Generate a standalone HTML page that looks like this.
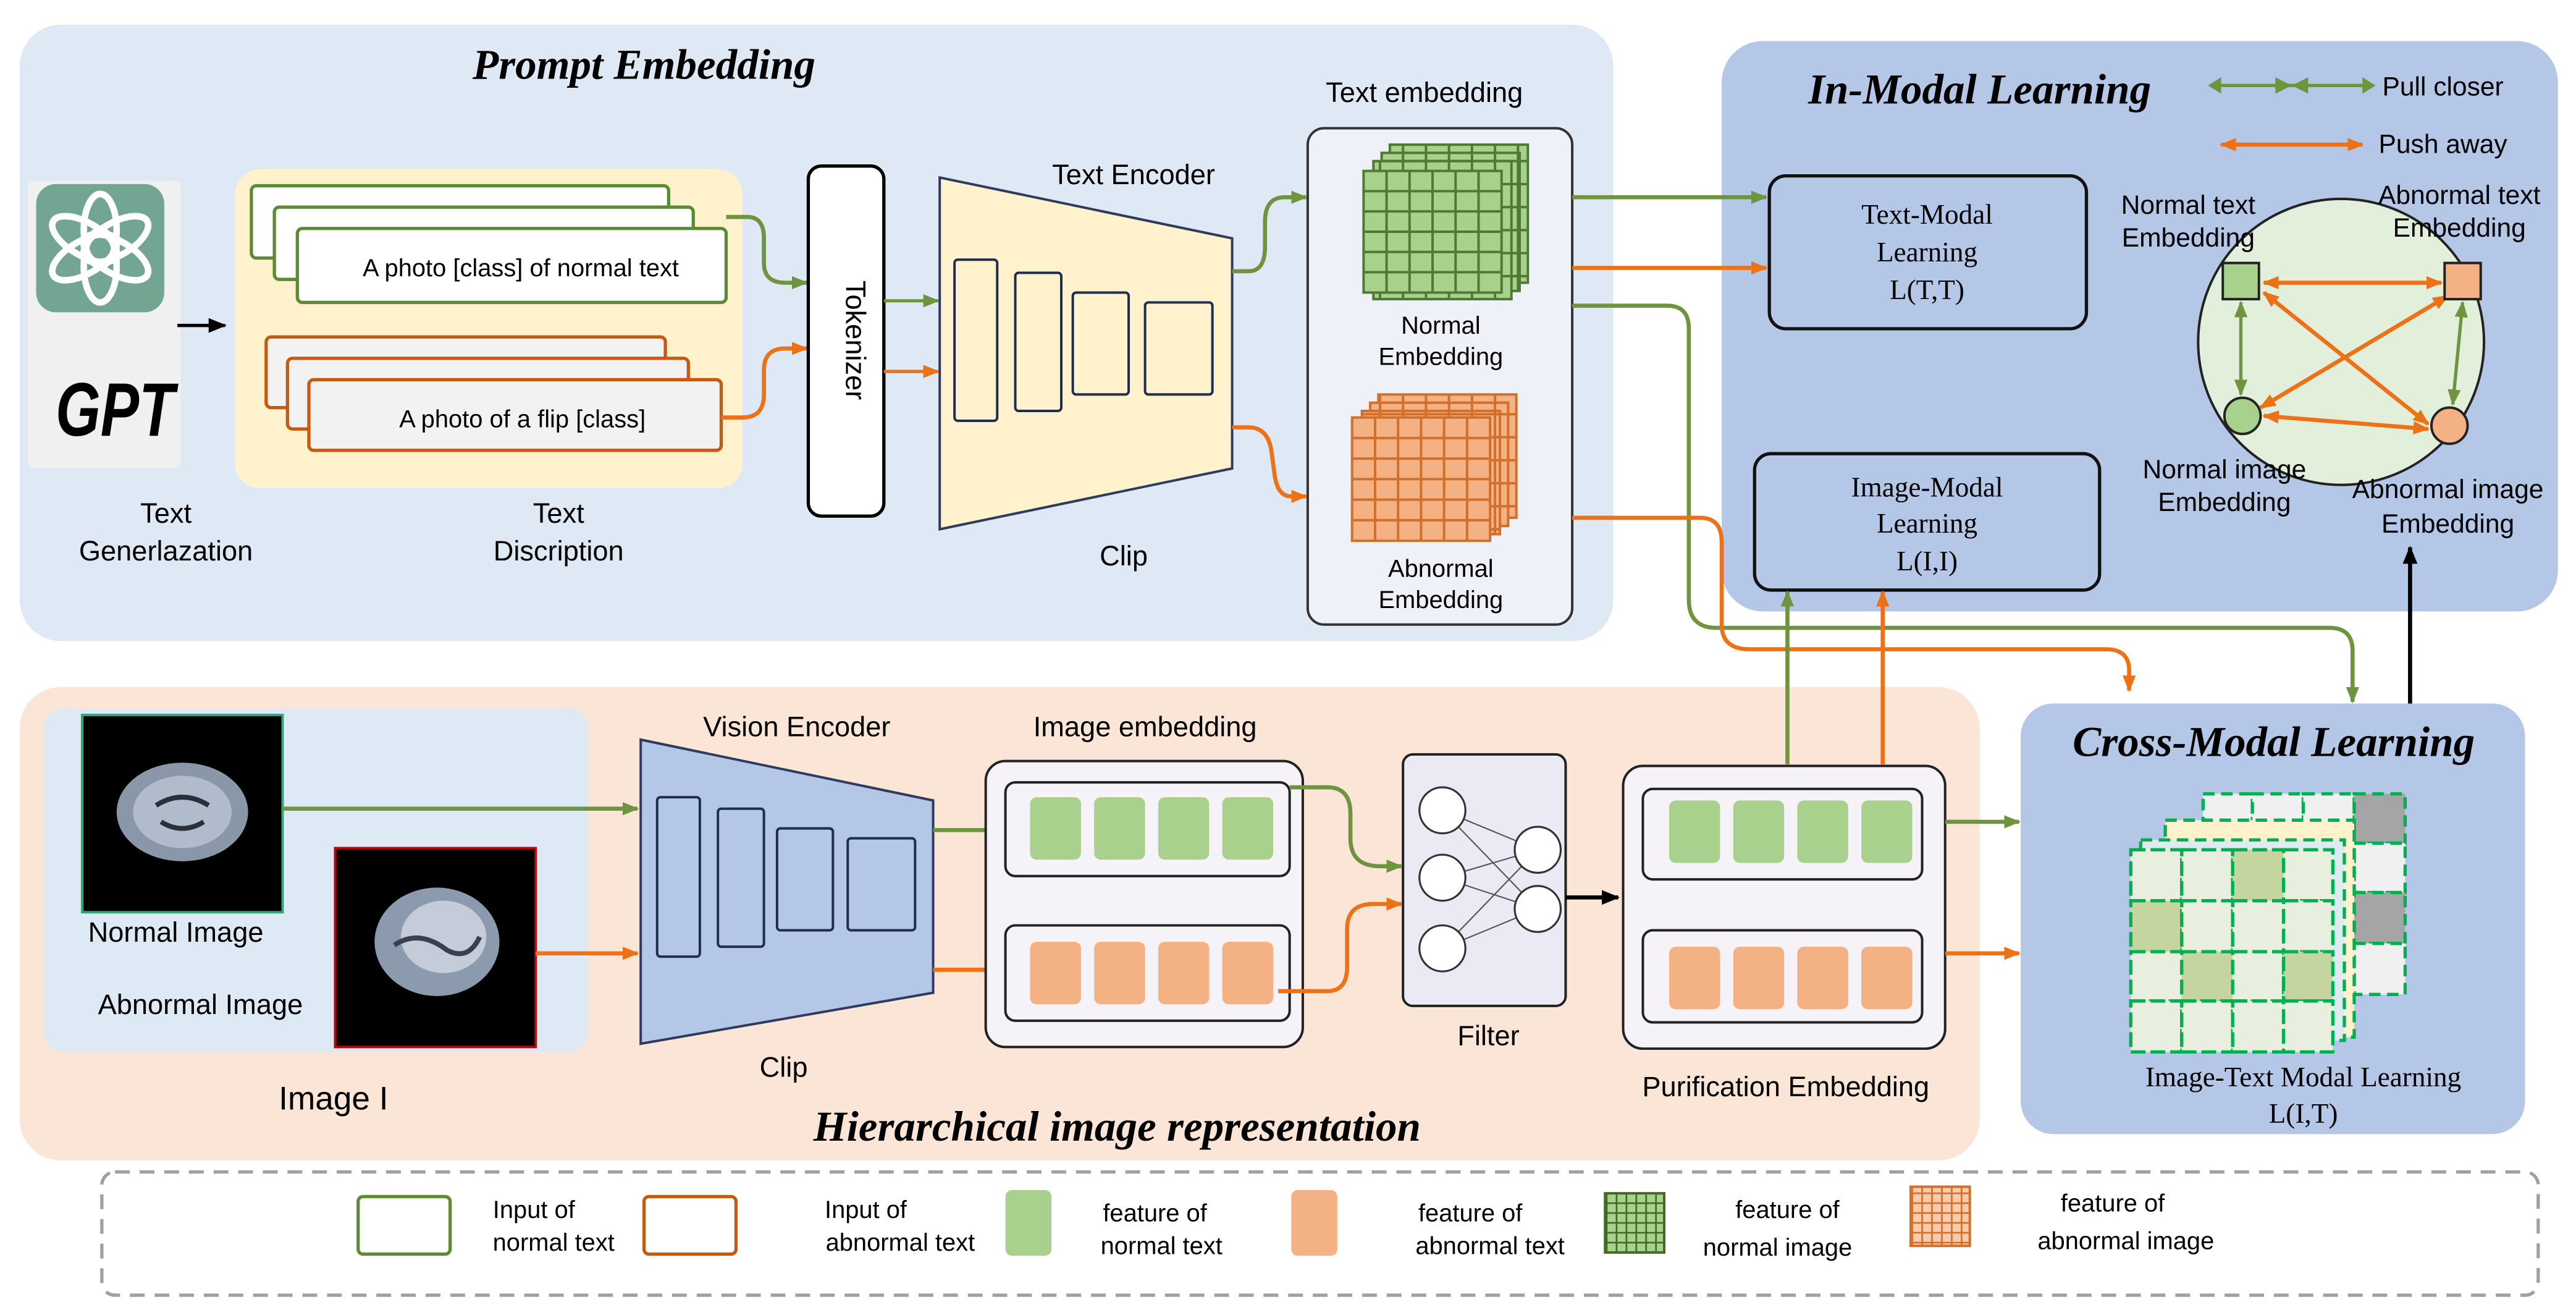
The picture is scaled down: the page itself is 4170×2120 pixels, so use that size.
<!DOCTYPE html>
<html><head><meta charset="utf-8"><style>
html,body{margin:0;padding:0;background:#fff;}
svg{display:block;}
text{font-family:"Liberation Sans",sans-serif;fill:#000;}
.s{font-family:"Liberation Serif",serif;}
.t{font-family:"Liberation Serif",serif;font-weight:bold;font-style:italic;font-size:26px;}
</style></head><body>
<svg width="4170" height="2120" viewBox="0 0 1568 797" preserveAspectRatio="none" xmlns="http://www.w3.org/2000/svg">
<defs>
<marker id="ag" markerWidth="10" markerHeight="8" refX="9" refY="4" orient="auto" markerUnits="userSpaceOnUse"><path d="M0,0 L10,4 L0,8 z" fill="#6f9440"/></marker>
<marker id="ao" markerWidth="10" markerHeight="8" refX="9" refY="4" orient="auto" markerUnits="userSpaceOnUse"><path d="M0,0 L10,4 L0,8 z" fill="#ed7117"/></marker>
<marker id="ak" markerWidth="11" markerHeight="9" refX="10" refY="4.5" orient="auto" markerUnits="userSpaceOnUse"><path d="M0,0 L11,4.5 L0,9 z" fill="#000"/></marker>
<marker id="agr" markerWidth="10" markerHeight="8" refX="1" refY="4" orient="auto" markerUnits="userSpaceOnUse"><path d="M10,0 L0,4 L10,8 z" fill="#6f9440"/></marker>
<marker id="aor" markerWidth="10" markerHeight="8" refX="1" refY="4" orient="auto" markerUnits="userSpaceOnUse"><path d="M10,0 L0,4 L10,8 z" fill="#ed7117"/></marker>
<pattern id="pg" width="14" height="14" patternUnits="userSpaceOnUse"><rect width="14" height="14" fill="#a9d18e" stroke="#4f7a33" stroke-width="1.5"/></pattern>
<pattern id="po" width="14" height="14" patternUnits="userSpaceOnUse"><rect width="14" height="14" fill="#f4b183" stroke="#d0702a" stroke-width="1.5"/></pattern>
<pattern id="pg2" width="6" height="6" patternUnits="userSpaceOnUse"><rect width="6" height="6" fill="#a9d18e" stroke="#3f6b26" stroke-width="1"/></pattern>
<pattern id="po2" width="6" height="6" patternUnits="userSpaceOnUse"><rect width="6" height="6" fill="#f8cbad" stroke="#d0702a" stroke-width="1"/></pattern>
</defs>

<rect x="12" y="15" width="970" height="375" rx="25" fill="#dee9f5"/>
<text x="392" y="48" class="t" text-anchor="middle">Prompt Embedding</text>
<rect x="17" y="110" width="93" height="175" rx="4" fill="#f0f0f0"/>
<rect x="22" y="112" width="78" height="78" rx="12" fill="#72a592"/>
<g fill="none" stroke="#fff" stroke-width="4">
<ellipse cx="61" cy="140" rx="10" ry="22" transform="rotate(0 61 151)"/>
<ellipse cx="61" cy="140" rx="10" ry="22" transform="rotate(60 61 151)"/>
<ellipse cx="61" cy="140" rx="10" ry="22" transform="rotate(120 61 151)"/>
<ellipse cx="61" cy="140" rx="10" ry="22" transform="rotate(180 61 151)"/>
<ellipse cx="61" cy="140" rx="10" ry="22" transform="rotate(240 61 151)"/>
<ellipse cx="61" cy="140" rx="10" ry="22" transform="rotate(300 61 151)"/>
</g>
<text x="0" y="0" font-size="44" font-weight="bold" font-style="italic" text-anchor="middle" transform="translate(70,265) scale(0.8,1.05)">GPT</text>
<line x1="108" y1="198" x2="137" y2="198" stroke="#000" stroke-width="2" marker-end="url(#ak)"/>
<rect x="143" y="103" width="309" height="194" rx="15" fill="#fff2cc"/>
<g stroke="#5e8a36" stroke-width="2" fill="#fff">
<rect x="153" y="113" width="254" height="44" rx="3"/>
<rect x="167" y="126" width="255" height="44" rx="3"/>
<rect x="181" y="139" width="261" height="45" rx="3"/>
</g>
<text x="317" y="168" font-size="15" text-anchor="middle">A photo [class] of normal text</text>
<g stroke="#c55a11" stroke-width="2" fill="#f2f2f2">
<rect x="162" y="205" width="243" height="43" rx="3"/>
<rect x="175" y="218" width="244" height="43" rx="3"/>
<rect x="188" y="231" width="251" height="43" rx="3"/>
</g>
<text x="318" y="260" font-size="15" text-anchor="middle">A photo of a flip [class]</text>
<text x="101" y="318" font-size="17" text-anchor="middle">Text</text>
<text x="101" y="341" font-size="17" text-anchor="middle">Generlazation</text>
<text x="340" y="318" font-size="17" text-anchor="middle">Text</text>
<text x="340" y="341" font-size="17" text-anchor="middle">Discription</text>

<path d="M442,132 L455,132 Q465,132 465,145 L465,160 Q465,172 478,172 L491,172" fill="none" stroke="#6f9440" stroke-width="2.5" marker-end="url(#ag)"/>
<path d="M439,254 L452,254 Q465,254 465,240 L465,225 Q465,212 478,212 L491,212" fill="none" stroke="#ed7117" stroke-width="2.5" marker-end="url(#ao)"/>

<rect x="492" y="101" width="46" height="213" rx="8" fill="#fff" stroke="#000" stroke-width="2"/>
<text x="515" y="207" font-size="17" text-anchor="middle" transform="rotate(90 515 207)">Tokenizer</text>
<line x1="538" y1="183" x2="571" y2="183" stroke="#6f9440" stroke-width="2" marker-end="url(#ag)"/>
<line x1="538" y1="226" x2="571" y2="226" stroke="#ed7117" stroke-width="2" marker-end="url(#ao)"/>

<polygon points="572,108 750,145 750,285 572,322" fill="#fff2cc" stroke="#2f3b5c" stroke-width="1.5"/>
<g fill="none" stroke="#1f2d50" stroke-width="1.5">
<rect x="581" y="158" width="26" height="98" rx="2"/>
<rect x="618" y="166" width="28" height="84" rx="2"/>
<rect x="653" y="178" width="34" height="62" rx="2"/>
<rect x="697" y="184" width="41" height="56" rx="2"/>
</g>
<text x="690" y="112" font-size="17" text-anchor="middle">Text Encoder</text>
<text x="684" y="344" font-size="17" text-anchor="middle">Clip</text>
<path d="M750,165 L760,165 Q770,165 770,150 L770,135 Q770,120 782,120 L795,120" fill="none" stroke="#6f9440" stroke-width="2.5" marker-end="url(#ag)"/>
<path d="M750,260 L760,260 Q772,260 774,275 L776,290 Q778,302 786,302 L795,302" fill="none" stroke="#ed7117" stroke-width="2.5" marker-end="url(#ao)"/>

<text x="867" y="62" font-size="17" text-anchor="middle">Text embedding</text>
<rect x="796" y="78" width="161" height="302" rx="10" fill="#eef2f8" stroke="#333" stroke-width="1.5"/>
<rect x="846" y="88" width="84" height="84" fill="url(#pg)" stroke="#4f7a33" stroke-width="1.5"/>
<rect x="841" y="93" width="84" height="84" fill="url(#pg)" stroke="#4f7a33" stroke-width="1.5"/>
<rect x="836" y="98" width="84" height="84" fill="url(#pg)" stroke="#4f7a33" stroke-width="1.5"/>
<rect x="830" y="104" width="84" height="74" fill="#a9d18e"/>
<g stroke="#4f7a33" stroke-width="1.5" fill="none"><rect x="830" y="104" width="84" height="74"/>
<path d="M844,104V178M858,104V178M872,104V178M886,104V178M900,104V178M830,116.3H914M830,128.6H914M830,141H914M830,153.3H914M830,165.6H914"/></g>
<text x="877" y="203" font-size="15" text-anchor="middle">Normal</text>
<text x="877" y="222" font-size="15" text-anchor="middle">Embedding</text>
<rect x="839" y="240" width="84" height="75" fill="url(#po)" stroke="#d0702a" stroke-width="1.5"/>
<rect x="834" y="245" width="84" height="75" fill="url(#po)" stroke="#d0702a" stroke-width="1.5"/>
<rect x="829" y="250" width="84" height="75" fill="url(#po)" stroke="#d0702a" stroke-width="1.5"/>
<rect x="823" y="254" width="84" height="75" fill="#f4b183"/>
<g stroke="#d0702a" stroke-width="1.5" fill="none"><rect x="823" y="254" width="84" height="75"/>
<path d="M837,254V329M851,254V329M865,254V329M879,254V329M893,254V329M823,266.5H907M823,279H907M823,291.5H907M823,304H907M823,316.5H907"/></g>
<text x="877" y="351" font-size="15" text-anchor="middle">Abnormal</text>
<text x="877" y="370" font-size="15" text-anchor="middle">Embedding</text>

<rect x="1048" y="25" width="509" height="347" rx="25" fill="#b4c7e7"/>
<text x="1205" y="63" class="t" text-anchor="middle">In-Modal Learning</text>
<line x1="1352" y1="52" x2="1438" y2="52" stroke="#6f9440" stroke-width="2"/>
<path d="M1385,47 L1395,52 L1385,57z M1405,47 L1395,52 L1405,57z M1352,47 L1344,52 L1352,57z M1438,47 L1446,52 L1438,57z" fill="#6f9440"/>
<text x="1487" y="58" font-size="16" text-anchor="middle">Pull closer</text>
<line x1="1352" y1="88" x2="1438" y2="88" stroke="#ed7117" stroke-width="2.5" marker-start="url(#aor)" marker-end="url(#ao)"/>
<text x="1487" y="93" font-size="16" text-anchor="middle">Push away</text>
<rect x="1077" y="107" width="193" height="93" rx="10" fill="none" stroke="#111" stroke-width="2"/>
<text class="s" x="1173" y="136" font-size="17" text-anchor="middle">Text-Modal</text>
<text class="s" x="1173" y="159" font-size="17" text-anchor="middle">Learning</text>
<text class="s" x="1173" y="182" font-size="17" text-anchor="middle">L(T,T)</text>
<rect x="1068" y="276" width="210" height="83" rx="10" fill="none" stroke="#111" stroke-width="2"/>
<text class="s" x="1173" y="302" font-size="17" text-anchor="middle">Image-Modal</text>
<text class="s" x="1173" y="324" font-size="17" text-anchor="middle">Learning</text>
<text class="s" x="1173" y="347" font-size="17" text-anchor="middle">L(I,I)</text>

<circle cx="1425" cy="208" r="87" fill="#e2efda" stroke="#222" stroke-width="1.5"/>
<g stroke="#ed7117" stroke-width="2.5">
<line x1="1378" y1="172" x2="1486" y2="172" marker-start="url(#aor)" marker-end="url(#ao)"/>
<line x1="1378" y1="178" x2="1478" y2="258" marker-start="url(#aor)" marker-end="url(#ao)"/>
<line x1="1490" y1="180" x2="1376" y2="248" marker-start="url(#aor)" marker-end="url(#ao)"/>
<line x1="1378" y1="253" x2="1478" y2="261" marker-start="url(#aor)" marker-end="url(#ao)"/>
</g>
<g stroke="#6f9440" stroke-width="2">
<line x1="1364" y1="184" x2="1364" y2="240" marker-start="url(#agr)" marker-end="url(#ag)"/>
<line x1="1499" y1="184" x2="1493" y2="246" marker-start="url(#agr)" marker-end="url(#ag)"/>
</g>
<rect x="1353" y="160" width="22" height="22" fill="#a9d18e" stroke="#222" stroke-width="1.5"/>
<rect x="1488" y="160" width="22" height="22" fill="#f4b183" stroke="#222" stroke-width="1.5"/>
<circle cx="1365" cy="253" r="11" fill="#a9d18e" stroke="#222" stroke-width="1.5"/>
<circle cx="1491" cy="259" r="11" fill="#f4b183" stroke="#222" stroke-width="1.5"/>
<text x="1332" y="130" font-size="16" text-anchor="middle">Normal text</text>
<text x="1332" y="150" font-size="16" text-anchor="middle">Embedding</text>
<text x="1497" y="124" font-size="16" text-anchor="middle">Abnormal text</text>
<text x="1497" y="144" font-size="16" text-anchor="middle">Embedding</text>
<text x="1354" y="291" font-size="16" text-anchor="middle">Normal image</text>
<text x="1354" y="311" font-size="16" text-anchor="middle">Embedding</text>
<text x="1490" y="303" font-size="16" text-anchor="middle">Abnormal image</text>
<text x="1490" y="324" font-size="16" text-anchor="middle">Embedding</text>

<line x1="957" y1="120" x2="1075" y2="120" stroke="#6f9440" stroke-width="2.5" marker-end="url(#ag)"/>
<line x1="957" y1="163" x2="1075" y2="163" stroke="#ed7117" stroke-width="2.5" marker-end="url(#ao)"/>
<path d="M957,186 L1015,186 Q1028,186 1028,200 L1028,365 Q1028,382 1045,382 L1418,382 Q1432,382 1432,396 L1432,427" fill="none" stroke="#6f9440" stroke-width="2.5" marker-end="url(#ag)"/>
<path d="M957,315 L1035,315 Q1048,315 1048,330 L1048,380 Q1048,395 1065,395 L1282,395 Q1296,395 1296,408 L1296,420" fill="none" stroke="#ed7117" stroke-width="2.5" marker-end="url(#ao)"/>
<line x1="1467" y1="428" x2="1467" y2="333" stroke="#000" stroke-width="2.5" marker-end="url(#ak)"/>

<rect x="12" y="418" width="1193" height="288" rx="25" fill="#fbe5d6"/>
<text x="680" y="694" class="t" text-anchor="middle">Hierarchical image representation</text>
<rect x="27" y="431" width="331" height="209" rx="12" fill="#dde9f5"/>
<rect x="50" y="435" width="122" height="120" fill="#000" stroke="#2aa87a" stroke-width="1.5"/>
<ellipse cx="111" cy="494" rx="40" ry="30" fill="#8a97a8"/>
<ellipse cx="111" cy="494" rx="30" ry="22" fill="#b0bccb"/>
<path d="M95,490 Q111,480 127,490 M98,500 Q111,508 124,500" stroke="#2a2f3a" stroke-width="3" fill="none"/>
<rect x="204" y="516" width="122" height="121" fill="#000" stroke="#c00000" stroke-width="1.5"/>
<ellipse cx="266" cy="573" rx="38" ry="33" fill="#8c9aae"/>
<ellipse cx="270" cy="570" rx="26" ry="22" fill="#c3ccd8"/>
<path d="M240,575 Q255,565 272,578 Q285,585 292,570" stroke="#3a4050" stroke-width="3" fill="none"/>
<text x="107" y="573" font-size="17" text-anchor="middle">Normal Image</text>
<text x="122" y="617" font-size="17" text-anchor="middle">Abnormal Image</text>
<text x="203" y="675" font-size="20" text-anchor="middle">Image I</text>
<line x1="172" y1="492" x2="388" y2="492" stroke="#6f9440" stroke-width="2.5" marker-end="url(#ag)"/>
<line x1="326" y1="580" x2="388" y2="580" stroke="#ed7117" stroke-width="2.5" marker-end="url(#ao)"/>
<polygon points="390,450 568,487 568,604 390,635" fill="#b4c7e7" stroke="#2f3b5c" stroke-width="1.5"/>
<g fill="none" stroke="#1f2d50" stroke-width="1.5">
<rect x="400" y="485" width="26" height="97" rx="2"/>
<rect x="437" y="492" width="28" height="84" rx="2"/>
<rect x="473" y="504" width="34" height="62" rx="2"/>
<rect x="516" y="510" width="41" height="56" rx="2"/>
</g>
<text x="485" y="448" font-size="17" text-anchor="middle">Vision Encoder</text>
<text x="477" y="655" font-size="17" text-anchor="middle">Clip</text>
<line x1="568" y1="505" x2="610" y2="505" stroke="#6f9440" stroke-width="2.5" marker-end="url(#ag)"/>
<line x1="568" y1="590" x2="610" y2="590" stroke="#ed7117" stroke-width="2.5" marker-end="url(#ao)"/>

<text x="697" y="448" font-size="17" text-anchor="middle">Image embedding</text>
<rect x="600" y="463" width="193" height="174" rx="12" fill="#f5f3f8" stroke="#222" stroke-width="1.5"/>
<rect x="612" y="476" width="173" height="57" rx="6" fill="none" stroke="#222" stroke-width="1.5"/>
<rect x="612" y="563" width="173" height="58" rx="6" fill="none" stroke="#222" stroke-width="1.5"/>
<g fill="#a9d18e"><rect x="627" y="485" width="31" height="38" rx="4"/><rect x="666" y="485" width="31" height="38" rx="4"/><rect x="705" y="485" width="31" height="38" rx="4"/><rect x="744" y="485" width="31" height="38" rx="4"/></g>
<g fill="#f4b183"><rect x="627" y="573" width="31" height="38" rx="4"/><rect x="666" y="573" width="31" height="38" rx="4"/><rect x="705" y="573" width="31" height="38" rx="4"/><rect x="744" y="573" width="31" height="38" rx="4"/></g>
<path d="M785,479 L808,479 Q822,479 822,495 L822,510 Q822,527 840,527 L853,527" fill="none" stroke="#6f9440" stroke-width="2.5" marker-end="url(#ag)"/>
<path d="M778,603 L808,603 Q820,603 820,588 L820,565 Q820,550 836,550 L853,550" fill="none" stroke="#ed7117" stroke-width="2.5" marker-end="url(#ao)"/>

<rect x="854" y="459" width="99" height="153" rx="6" fill="#ebe9f4" stroke="#222" stroke-width="1.5"/>
<g stroke="#555" stroke-width="0.8">
<line x1="878" y1="493" x2="936" y2="517"/><line x1="878" y1="493" x2="936" y2="553"/>
<line x1="878" y1="534" x2="936" y2="517"/><line x1="878" y1="534" x2="936" y2="553"/>
<line x1="878" y1="577" x2="936" y2="517"/><line x1="878" y1="577" x2="936" y2="553"/>
</g>
<g fill="#fff" stroke="#333" stroke-width="1.2">
<circle cx="878" cy="493" r="14"/><circle cx="878" cy="534" r="14"/><circle cx="878" cy="577" r="14"/>
<circle cx="936" cy="517" r="14"/><circle cx="936" cy="553" r="14"/>
</g>
<text x="906" y="636" font-size="17" text-anchor="middle">Filter</text>
<line x1="953" y1="546" x2="985" y2="546" stroke="#000" stroke-width="2.5" marker-end="url(#ak)"/>

<rect x="988" y="466" width="196" height="172" rx="12" fill="#f5f3f8" stroke="#222" stroke-width="1.5"/>
<rect x="1000" y="480" width="170" height="55" rx="6" fill="none" stroke="#222" stroke-width="1.5"/>
<rect x="1000" y="566" width="170" height="56" rx="6" fill="none" stroke="#222" stroke-width="1.5"/>
<g fill="#a9d18e"><rect x="1016" y="487" width="31" height="38" rx="4"/><rect x="1055" y="487" width="31" height="38" rx="4"/><rect x="1094" y="487" width="31" height="38" rx="4"/><rect x="1133" y="487" width="31" height="38" rx="4"/></g>
<g fill="#f4b183"><rect x="1016" y="576" width="31" height="38" rx="4"/><rect x="1055" y="576" width="31" height="38" rx="4"/><rect x="1094" y="576" width="31" height="38" rx="4"/><rect x="1133" y="576" width="31" height="38" rx="4"/></g>
<text x="1087" y="667" font-size="17" text-anchor="middle">Purification Embedding</text>
<line x1="1088" y1="465" x2="1088" y2="360" stroke="#6f9440" stroke-width="2.5" marker-end="url(#ag)"/>
<line x1="1146" y1="465" x2="1146" y2="360" stroke="#ed7117" stroke-width="2.5" marker-end="url(#ao)"/>
<line x1="1184" y1="500" x2="1229" y2="500" stroke="#6f9440" stroke-width="2.5" marker-end="url(#ag)"/>
<line x1="1184" y1="580" x2="1229" y2="580" stroke="#ed7117" stroke-width="2.5" marker-end="url(#ao)"/>

<rect x="1230" y="428" width="307" height="262" rx="20" fill="#b4c7e7"/>
<text x="1384" y="460" class="t" text-anchor="middle">Cross-Modal Learning</text>
<g stroke="#00b050" stroke-width="2" stroke-dasharray="7,4">
<rect x="1341" y="483" width="30" height="41" fill="#f0f0f0"/>
<rect x="1371" y="483" width="31" height="41" fill="#f0f0f0"/>
<rect x="1402" y="483" width="31" height="41" fill="#f0f0f0"/>
<rect x="1433" y="483" width="31" height="30" fill="#a5a5a5"/>
<rect x="1433" y="513" width="31" height="30" fill="#f0f0f0"/>
<rect x="1433" y="543" width="31" height="31" fill="#a5a5a5"/>
<rect x="1433" y="574" width="31" height="31" fill="#f0f0f0"/>
<rect x="1318" y="499" width="115" height="132" fill="#fff2cc"/>
<rect x="1303" y="511" width="124" height="122" fill="#deebf0"/>
</g>
<g stroke="#00b050" stroke-width="2" stroke-dasharray="9,3">
<g fill="#e8efdf">
<rect x="1297" y="517" width="31" height="31"/><rect x="1328" y="517" width="31" height="31"/><rect x="1359" y="517" width="31" height="31" fill="#c5d5a0"/><rect x="1390" y="517" width="30" height="31"/>
<rect x="1297" y="548" width="31" height="31" fill="#c5d5a0"/><rect x="1328" y="548" width="31" height="31"/><rect x="1359" y="548" width="31" height="31"/><rect x="1390" y="548" width="30" height="31"/>
<rect x="1297" y="579" width="31" height="30"/><rect x="1328" y="579" width="31" height="30" fill="#c5d5a0"/><rect x="1359" y="579" width="31" height="30"/><rect x="1390" y="579" width="30" height="30" fill="#c5d5a0"/>
<rect x="1297" y="609" width="31" height="31"/><rect x="1328" y="609" width="31" height="31"/><rect x="1359" y="609" width="31" height="31"/><rect x="1390" y="609" width="30" height="31"/>
</g></g>
<text class="s" x="1402" y="661" font-size="17" text-anchor="middle">Image-Text Modal Learning</text>
<text class="s" x="1402" y="683" font-size="17" text-anchor="middle">L(I,T)</text>

<rect x="62" y="713" width="1483" height="75" rx="8" fill="none" stroke="#a0a0a0" stroke-width="2" stroke-dasharray="9,6"/>
<rect x="218" y="728" width="56" height="35" rx="3" fill="#fff" stroke="#5e8a36" stroke-width="2"/>
<text x="325" y="741" font-size="15" text-anchor="middle">Input of</text>
<text x="337" y="761" font-size="15" text-anchor="middle">normal text</text>
<rect x="392" y="728" width="56" height="35" rx="3" fill="#fff" stroke="#c55a11" stroke-width="2"/>
<text x="527" y="741" font-size="15" text-anchor="middle">Input of</text>
<text x="548" y="761" font-size="15" text-anchor="middle">abnormal text</text>
<rect x="612" y="724" width="28" height="40" rx="4" fill="#a9d18e"/>
<text x="703" y="743" font-size="15" text-anchor="middle">feature of</text>
<text x="707" y="763" font-size="15" text-anchor="middle">normal text</text>
<rect x="786" y="724" width="28" height="40" rx="4" fill="#f4b183"/>
<text x="895" y="743" font-size="15" text-anchor="middle">feature of</text>
<text x="907" y="763" font-size="15" text-anchor="middle">abnormal text</text>
<rect x="977" y="726" width="36" height="36" fill="url(#pg2)" stroke="#3f6b26" stroke-width="1.5"/>
<text x="1088" y="741" font-size="15" text-anchor="middle">feature of</text>
<text x="1082" y="764" font-size="15" text-anchor="middle">normal image</text>
<rect x="1163" y="722" width="36" height="36" fill="url(#po2)" stroke="#d0702a" stroke-width="1.5"/>
<text x="1286" y="737" font-size="15" text-anchor="middle">feature of</text>
<text x="1294" y="760" font-size="15" text-anchor="middle">abnormal image</text>
</svg>
</body></html>
